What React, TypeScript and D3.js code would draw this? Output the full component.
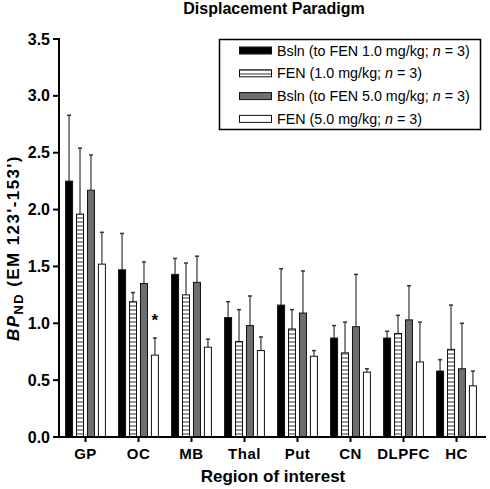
import React from "react";
import * as d3 from "d3";

const regions = ["GP", "OC", "MB", "Thal", "Put", "CN", "DLPFC", "HC"];
const bslnLow = [2.25, 1.47, 1.43, 1.05, 1.16, 0.87, 0.87, 0.58];
const bslnLowErr = [0.58, 0.32, 0.14, 0.14, 0.32, 0.11, 0.06, 0.1];
const fenLow = [1.96, 1.19, 1.25, 0.84, 0.95, 0.74, 0.91, 0.77];
const fenLowErr = [0.58, 0.08, 0.28, 0.28, 0.17, 0.27, 0.16, 0.39];
const bslnHigh = [2.17, 1.35, 1.36, 0.98, 1.09, 0.97, 1.03, 0.6];
const bslnHighErr = [0.31, 0.19, 0.23, 0.26, 0.37, 0.46, 0.3, 0.4];
const fenHigh = [1.52, 0.72, 0.79, 0.76, 0.71, 0.57, 0.66, 0.45];
const fenHighErr = [0.28, 0.15, 0.07, 0.12, 0.05, 0.03, 0.35, 0.13];
const yTicks = [0, 0.5, 1.0, 1.5, 2.0, 2.5, 3.0, 3.5];
const significant = [{ region: "OC", series: 3 }];

const seriesKeys = ["bslnLow", "fenLow", "bslnHigh", "fenHigh"];
const seriesValues = [bslnLow, fenLow, bslnHigh, fenHigh];
const seriesErrs = [bslnLowErr, fenLowErr, bslnHighErr, fenHighErr];
const seriesFill = ["#000000", "url(#stripes)", "#6e6e6e", "#ffffff"];
const legendLabels = [
  ["Bsln (to FEN 1.0 mg/kg; ", "n", " = 3)"],
  ["FEN (1.0 mg/kg; ", "n", " = 3)"],
  ["Bsln (to FEN 5.0 mg/kg; ", "n", " = 3)"],
  ["FEN (5.0 mg/kg; ", "n", " = 3)"],
];

const FONT = "'Liberation Sans', Arial, Helvetica, sans-serif";

export default function App() {
  const W = 490;
  const H = 489;
  const y = d3.scaleLinear().domain([0, 3.5]).range([437, 39]);
  const x0 = d3
    .scaleBand<string>()
    .domain(regions)
    .range([59, 483])
    .paddingInner(0.23)
    .paddingOuter(0.115);
  const x1 = d3
    .scaleBand<string>()
    .domain(seriesKeys)
    .range([0, x0.bandwidth()])
    .paddingInner(0.27)
    .paddingOuter(0);

  const axisX = 59;
  const axisY = y(0);

  return (
    <svg
      width={W}
      height={H}
      style={{ position: "absolute", left: 0, top: 0, background: "#fff" }}
      fontFamily={FONT}
    >
      <defs>
        <pattern id="stripes" patternUnits="userSpaceOnUse" width={8} height={4}>
          <rect x={0} y={0} width={8} height={4} fill="#fff" />
          <line x1={0} x2={8} y1={2} y2={2} stroke="#333" strokeWidth={1} />
        </pattern>
      </defs>
      <rect x={0} y={0} width={W} height={H} fill="#fff" />

      {/* title */}
      <text x={274} y={14} textAnchor="middle" fontSize={16} fontWeight="bold">
        Displacement Paradigm
      </text>

      {/* bars */}
      {regions.map((r, i) => (
        <g key={r} transform={`translate(${x0(r)},0)`}>
          {seriesKeys.map((k, s) => {
            const v = seriesValues[s][i];
            const e = seriesErrs[s][i];
            const bx = x1(k)!;
            const bw = x1.bandwidth();
            const cx = bx + bw / 2;
            return (
              <g key={k}>
                <line
                  x1={cx}
                  x2={cx}
                  y1={y(v)}
                  y2={y(v + e)}
                  stroke="#5e5e5e"
                  strokeWidth={1.5}
                />
                <line
                  x1={cx - 2}
                  x2={cx + 2}
                  y1={y(v + e)}
                  y2={y(v + e)}
                  stroke="#333"
                  strokeWidth={1.5}
                />
                <rect
                  x={bx + 0.5}
                  y={y(v)}
                  width={bw - 1}
                  height={axisY - y(v)}
                  fill={seriesFill[s]}
                  stroke="#111"
                  strokeWidth={1}
                />
              </g>
            );
          })}
        </g>
      ))}

      {/* significance */}
      {significant.map((sg) => {
        const i = regions.indexOf(sg.region);
        const k = seriesKeys[sg.series];
        const cx = x0(sg.region)! + x1(k)! + x1.bandwidth() / 2;
        const top = y(seriesValues[sg.series][i] + seriesErrs[sg.series][i]);
        return (
          <text
            key={sg.region}
            x={cx}
            y={top - 12}
            textAnchor="middle"
            fontSize={17}
            fontWeight="bold"
          >
            *
          </text>
        );
      })}

      {/* y axis */}
      <line x1={axisX} x2={axisX} y1={y(3.5) - 1} y2={axisY} stroke="#000" strokeWidth={2} />
      {yTicks.map((t) => (
        <g key={t}>
          <line x1={axisX - 6} x2={axisX} y1={y(t)} y2={y(t)} stroke="#000" strokeWidth={2} />
          <text
            x={axisX - 9}
            y={y(t)}
            dy="0.35em"
            textAnchor="end"
            fontSize={16}
            fontWeight="bold"
          >
            {t.toFixed(1)}
          </text>
        </g>
      ))}

      {/* x axis */}
      <line x1={axisX - 6} x2={486} y1={axisY} y2={axisY} stroke="#000" strokeWidth={2} />
      {regions.map((r) => {
        const cx = x0(r)! + x0.bandwidth() / 2;
        return (
          <g key={r}>
            <line x1={cx} x2={cx} y1={axisY} y2={axisY + 5} stroke="#000" strokeWidth={2} />
            <text
              x={cx}
              y={axisY + 22}
              textAnchor="middle"
              fontSize={15}
              fontWeight="bold"
              letterSpacing={0.5}
            >
              {r}
            </text>
          </g>
        );
      })}
      <text x={273} y={482} textAnchor="middle" fontSize={17} fontWeight="bold">
        Region of interest
      </text>

      {/* y label */}
      <text
        transform={`translate(19,248) rotate(-90)`}
        textAnchor="middle"
        fontSize={17}
        fontWeight="bold"
        letterSpacing={1.4}
      >
        <tspan fontStyle="italic">BP</tspan>
        <tspan fontSize={13} dy={4}>ND</tspan>
        <tspan dy={-4}> (EM 123'-153')</tspan>
      </text>

      {/* legend */}
      <rect x={219.5} y={39.5} width={261} height={90} fill="#fff" stroke="#000" strokeWidth={1.5} />
      {seriesKeys.map((k, s) => {
        const ry = 50.5 + s * 22.8;
        const labels = legendLabels[s];
        return (
          <g key={k}>
            <rect
              x={239.5}
              y={ry - 3.5}
              width={32}
              height={7}
              fill={seriesFill[s]}
              stroke="#111"
              strokeWidth={1}
            />
            <text x={277} y={ry} dy="0.35em" fontSize={14.3}>
              {labels[0]}
              <tspan fontStyle="italic">{labels[1]}</tspan>
              {labels[2]}
            </text>
          </g>
        );
      })}
    </svg>
  );
}
